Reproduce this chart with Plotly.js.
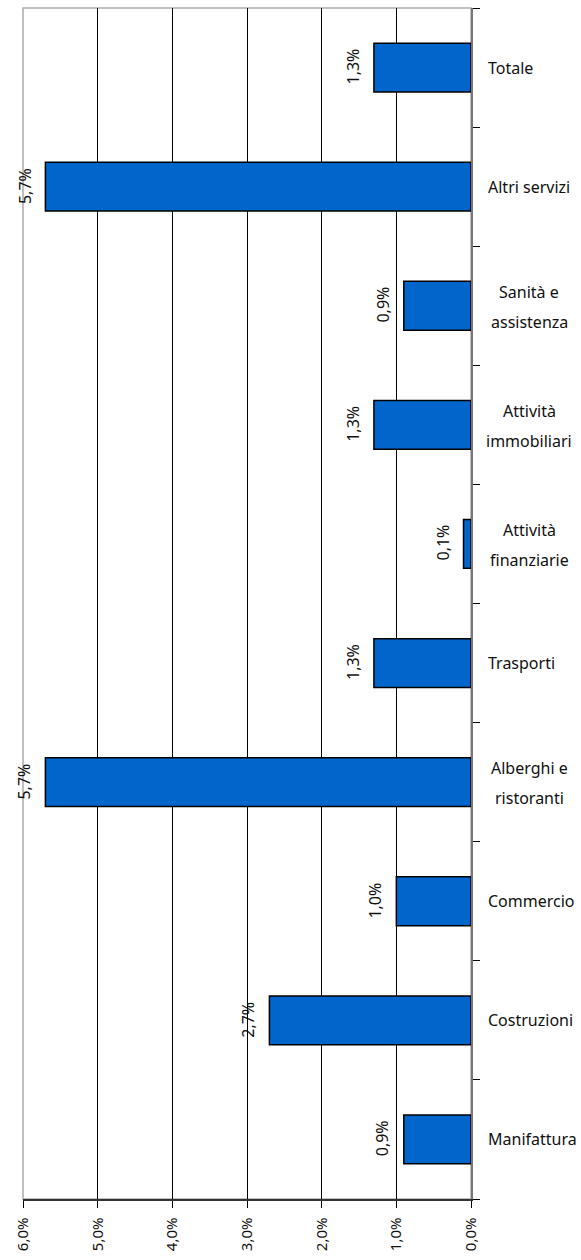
<!DOCTYPE html>
<html>
<head>
<meta charset="utf-8">
<script src="https://cdn.plot.ly/plotly-3.0.1.min.js"></script>
<style>html,body{margin:0;padding:0;background:#fff;}#chart{width:581px;height:1260px;}</style>
</head>
<body>
<div id="chart"></div>
<script>
// Categories listed from bottom to top
var categories = ["Manifattura", "Costruzioni", "Commercio", "Alberghi e<br> ristoranti", "Trasporti",
  "Attività<br>finanziarie", "Attività<br>immobiliari", "Sanità e<br>assistenza", "Altri servizi", "Totale"];
var values = [0.9, 2.7, 1.0, 5.7, 1.3, 0.1, 1.3, 0.9, 5.7, 1.3];
var tickValues = [0, 1, 2, 3, 4, 5, 6];

var FONT = "Noto Sans, Open Sans, sans-serif";
function fmt(v){ return v.toFixed(1).replace(".", ",") + "%"; }

var trace = {
  type: "bar",
  orientation: "h",
  y: categories,
  x: values,
  width: 0.41,
  marker: {color: "#0066CC", line: {color: "#000", width: 1.5}},
  hoverinfo: "none"
};

var annotations = [];
// value labels
categories.forEach(function(c, i){
  annotations.push({
    xref: "x", yref: "y", x: values[i], y: c,
    xanchor: "right", yanchor: "middle", textangle: -90,
    xshift: -8, yshift: 1, text: fmt(values[i]), showarrow: false,
    font: {family: FONT, size: 16, color: "#111"}
  });
});
// category labels (right side)
categories.forEach(function(c){
  var parts = c.split("<br>");
  if (parts.length === 1) {
    annotations.push({
      xref: "paper", yref: "y", x: 1, y: c, xanchor: "left", yanchor: "middle",
      xshift: 15, text: c, showarrow: false,
      font: {family: FONT, size: 16, color: "#111"}
    });
  } else {
    parts.forEach(function(p, k){
      annotations.push({
        xref: "paper", yref: "y", x: 1, y: c, xanchor: "center", yanchor: "middle",
        xshift: 58, yshift: k === 0 ? 14 : -16, text: p.trim(), showarrow: false,
        font: {family: FONT, size: 16, color: "#111"}
      });
    });
  }
});

var layout = {
  width: 581, height: 1260,
  margin: {l: 23, r: 110, t: 8, b: 61},
  paper_bgcolor: "#fff", plot_bgcolor: "#fff",
  showlegend: false,
  bargap: 0.59,
  xaxis: {
    range: [6, 0],
    tickvals: tickValues,
    ticktext: tickValues.map(fmt),
    tickangle: -90,
    ticks: "outside", ticklen: 7, tickcolor: "#000",
    ticklabelstandoff: 4,
    showgrid: true, gridcolor: "#000", gridwidth: 1,
    zeroline: false,
    showline: true, linecolor: "#333", linewidth: 1.5,
    tickfont: {family: FONT, size: 15, color: "#111"}
  },
  yaxis: {
    type: "category",
    side: "right",
    showticklabels: false,
    ticks: "outside", tickson: "boundaries", ticklen: 7, tickcolor: "#000",
    showgrid: false, zeroline: false,
    showline: true, linecolor: "#777", linewidth: 1.5
  },
  shapes: [{
    type: "rect", xref: "paper", yref: "paper", x0: 0, x1: 1, y0: 0, y1: 1,
    line: {color: "#aaa", width: 1.5}, layer: "below"
  }],
  annotations: annotations
};

Plotly.newPlot("chart", [trace], layout, {staticPlot: true, displayModeBar: false});
</script>
</body>
</html>
